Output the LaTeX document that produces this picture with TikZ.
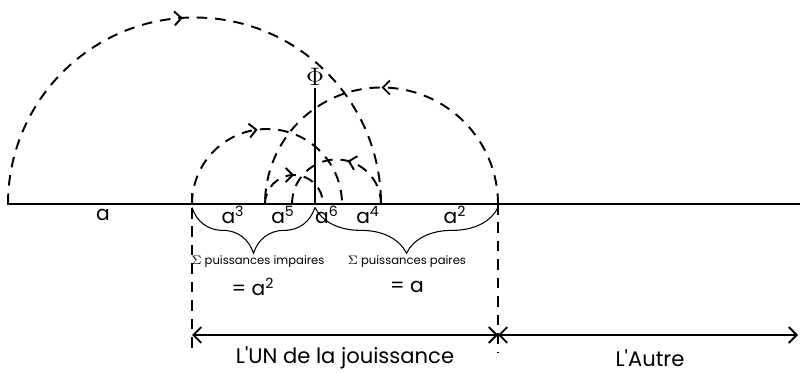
\documentclass[tikz,border=0pt]{standalone}
\usepackage{fontspec}
\setmainfont{Poppins}
\usetikzlibrary{arrows.meta,positioning,decorations.markings,decorations.pathreplacing}

\begin{document}
\begin{tikzpicture}[
    x=0.02cm, y=0.02cm,
    base/.style={line width=1.6pt},
    dashline/.style={line width=1.1pt,dash pattern=on 6pt off 4.5pt},
    turn/.style={dashline,postaction={decorate},decoration={markings,mark=at position #1 with {\arrow{Straight Barb[length=4pt,width=8pt,line width=1.1pt]}}}},
    brc/.style={decorate,decoration={brace,mirror,amplitude=26pt},line width=0.6pt},
    span/.style={{Straight Barb[length=4.5pt,width=9pt]}-{Straight Barb[length=4.5pt,width=9pt]},line width=1.1pt},
    power/.style={font=\fontsize{11.5}{13}\selectfont,inner sep=0pt},
    sumlbl/.style={font=\fontsize{6.6}{8}\selectfont,inner sep=0pt},
    part/.style={font=\fontsize{12}{14}\selectfont,inner sep=0pt}
]
\useasboundingbox (0,0) rectangle (800,372);

\coordinate (left) at (8,168);
\coordinate (un) at (192,168);
\coordinate (c3) at (265,168);
\coordinate (c5) at (292,168);
\coordinate (phi) at (315,168);
\coordinate (c6) at (323,168);
\coordinate (c4) at (342,168);
\coordinate (c2) at (381,168);
\coordinate (autre) at (498,168);
\coordinate (right) at (800,168);
\coordinate (phiend) at (315,284);
\coordinate (unlow) at (192,20);
\coordinate (autrelow) at (498,20);
\coordinate (ua) at (192,37);
\coordinate (aa) at (498,37);
\coordinate (ra) at (798,37);

\draw[base] ([yshift=5pt]left) -- (left) -- (right);
\draw[base] (un) -- ([yshift=6pt]un);
\draw[base] (phi) -- (phiend);
\node[above=1.5pt of phiend,inner sep=0pt,font=\fontsize{14}{16}\selectfont] (philbl) {$\Phi$};

\draw[turn=0.48] (left) arc[start angle=180,end angle=0,radius=186.5];
\draw[turn=0.5] (autre) arc[start angle=0,end angle=180,radius=116.5];
\draw[turn=0.46] (un) arc[start angle=180,end angle=0,radius=75];
\draw[turn=0.42] (c2) arc[start angle=0,end angle=180,radius=44.5];
\draw[turn=0.5] (c3) arc[start angle=180,end angle=0,radius=29];

\node[power] (la) at (103,157) {a};
\node[power] (la3) at (233,157) {a\textsuperscript{3}};
\node[power] (la5) at (283,157) {a\textsuperscript{5}};
\node[power] (la6) at (327,157) {a\textsuperscript{6}};
\node[power] (la4) at (368,157) {a\textsuperscript{4}};
\node[power] (la2) at (455,157) {a\textsuperscript{2}};

\draw[brc] ([yshift=-2pt]un) -- ([yshift=-2pt]phi);
\draw[brc] ([yshift=-2pt]phi) -- ([yshift=-2pt]autre);

\node[sumlbl] (odd) at (258,110) {$\Sigma$ puissances impaires};
\node[sumlbl] (even) at (407,110) {$\Sigma$ puissances paires};
\node[power] (oddval) at (253,85) {= a\textsuperscript{2}};
\node[power] (evenval) at (407,85) {= a};

\draw[dashline] (un) ++(0,-4) -- (unlow);
\draw[dashline] (autre) -- (autrelow);
\draw[span] (ua) -- (aa);
\draw[span] (aa) -- (ra);

\node[part] (onelbl) at (345,14) {L\textquotesingle UN de la jouissance};
\node[part] (otherlbl) at (650,14) {L\textquotesingle Autre};
\end{tikzpicture}
\end{document}
